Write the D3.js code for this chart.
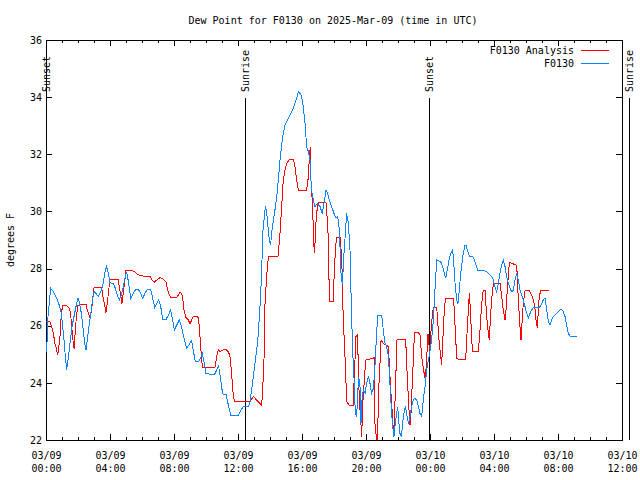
<!DOCTYPE html>
<html><head><meta charset="utf-8">
<script src="https://cdn.jsdelivr.net/npm/d3@7"></script>
<style>
html,body{margin:0;padding:0;background:#fff;}
svg text{font-family:"DejaVu Sans Mono",monospace;font-size:10px;fill:#000;}
</style></head>
<body>
<svg id="chart" width="640" height="480"></svg>
<script>
// ---- data ----
const titleText = "Dew Point for F0130 on 2025-Mar-09 (time in UTC)";
const yLabel = "degrees F";
const seriesNames = ["F0130 Analysis", "F0130"];
const seriesColors = ["#ff0000", "#0a84ff"];
const yTicks = [22, 24, 26, 28, 30, 32, 34, 36];
const startTime = "2025-03-09T00:00:00Z";
const spanHours = 36;

const eventNames = ["Sunset", "Sunrise", "Sunset", "Sunrise"];
const eventHours = [-0.02, 12.45, 23.95, 36.42];

// analysis (red): hours since start, dew point F
const analysisHours = [0.0,0.25,0.35,0.46,0.56,0.67,0.73,0.79,0.875,0.96,1.04,1.29,1.46,1.54,1.6,1.67,1.71,1.77,1.83,1.92,2.0,2.17,2.5,2.58,2.67,2.75,2.85,2.92,3.0,3.48,3.54,3.65,3.75,3.83,3.92,4.0,4.52,4.58,4.67,4.75,4.83,4.92,5.0,5.08,5.35,5.56,5.67,5.83,6.08,6.5,6.6,6.75,6.92,7.125,7.33,7.5,7.6,7.71,7.79,8.17,8.27,8.375,8.48,8.54,8.625,8.75,8.9,9.0,9.1,9.21,9.42,9.52,9.58,9.67,9.73,9.79,10.56,10.67,10.77,10.875,11.08,11.25,11.4,11.5,11.6,11.67,11.77,12.75,12.96,13.48,13.54,13.625,13.69,13.8,13.9,14.5,14.625,14.73,14.83,14.94,15.04,15.21,15.46,15.56,15.67,15.77,16.29,16.4,16.46,16.52,16.56,16.625,16.69,16.75,16.79,16.85,16.96,17.04,17.5,17.58,17.65,17.71,17.96,18.02,18.15,18.4,18.5,18.58,18.67,18.75,18.79,18.96,19.21,19.25,19.375,19.46,19.52,19.58,19.67,19.73,19.8,19.94,19.98,20.46,20.5,20.52,20.56,20.66,20.73,20.77,20.875,20.94,21.08,21.4,21.46,21.52,21.6,21.67,21.73,21.81,21.88,21.94,22.48,22.54,22.6,22.69,22.75,22.81,22.9,22.98,23.02,23.27,23.375,23.48,23.6,23.69,23.79,23.85,23.92,23.96,24.02,24.1,24.21,24.42,24.52,24.58,24.67,24.73,24.79,24.875,24.96,25.46,25.52,25.58,25.67,25.77,26.23,26.29,26.375,26.46,26.54,26.6,26.67,27.02,27.125,27.23,27.33,27.44,27.54,27.65,27.71,27.79,27.875,27.96,28.375,28.48,28.58,28.69,28.75,28.83,28.92,28.96,29.42,29.48,29.56,29.625,29.69,29.75,29.83,29.94,30.21,30.35,30.46,30.56,30.625,30.71,30.77,30.83,30.92,31.46];
const analysisDew = [26.14,26.14,25.97,25.73,25.38,25.15,24.97,25.21,25.62,26.43,26.7,26.7,26.61,26.43,25.97,25.62,25.32,25.17,25.85,26.43,26.71,26.75,26.75,26.55,26.43,26.26,26.55,26.96,27.33,27.33,27.07,26.78,26.46,26.78,27.25,27.62,27.62,27.37,27.07,26.78,27.13,27.54,27.93,27.95,27.93,27.89,27.81,27.77,27.74,27.74,27.62,27.52,27.6,27.68,27.63,27.54,27.25,27.07,26.99,26.99,27.07,27.19,27.13,26.99,26.55,26.29,26.2,26.06,26.2,26.32,26.32,26.29,25.97,25.27,24.8,24.54,24.54,24.92,25.15,25.09,25.15,25.17,25.09,24.92,24.33,23.75,23.36,23.36,23.52,23.22,23.75,24.8,26.78,27.8,28.42,28.42,29.23,30.17,31.1,31.45,31.68,31.82,31.82,31.57,31.1,30.75,30.75,31.22,31.92,32.27,31.1,30.52,29.7,28.77,28.53,29.47,30.17,30.31,30.31,29.7,29.0,26.84,26.84,28.0,29.1,29.1,28.0,26.2,25.15,24.0,23.34,23.22,23.22,23.98,25.62,25.67,24.68,23.4,22.7,22.12,23.3,24.45,24.8,24.86,24.9,23.52,22.58,22.0,22.0,23.52,24.68,25.5,25.38,25.27,24.68,23.98,23.28,22.7,22.12,23.3,24.5,25.53,25.53,24.68,23.98,23.05,22.52,22.9,24.1,25.03,25.76,25.76,25.67,24.92,24.45,24.15,24.7,25.7,25.7,24.9,25.5,26.1,26.64,26.64,25.85,25.38,24.92,24.62,25.38,26.32,26.96,26.96,26.55,25.85,24.86,24.82,24.82,25.5,26.32,27.13,26.43,25.5,25.09,25.09,25.85,26.78,27.25,27.25,26.32,25.73,25.5,26.43,27.02,27.48,27.48,27.02,26.55,26.2,26.55,27.25,27.95,28.21,28.12,27.37,26.55,25.97,25.5,26.08,26.78,27.23,27.23,27.07,26.9,26.61,26.2,25.91,26.55,27.02,27.23,27.23];

// observations (blue)
const obsHours = [0.04,0.125,0.29,0.46,0.67,0.83,0.96,1.04,1.125,1.21,1.29,1.375,1.5,1.625,1.75,1.875,2.0,2.08,2.21,2.33,2.42,2.5,2.58,2.71,2.83,2.92,3.0,3.125,3.27,3.42,3.54,3.69,3.79,3.9,4.0,4.21,4.33,4.46,4.58,4.71,4.83,4.96,5.04,5.17,5.29,5.46,5.6,5.77,5.92,6.04,6.21,6.33,6.54,6.67,6.79,6.92,7.04,7.17,7.29,7.5,7.65,7.79,7.92,8.02,8.17,8.33,8.48,8.625,8.79,8.96,9.1,9.23,9.33,9.54,9.67,9.77,9.9,10.0,10.25,10.54,10.67,10.79,10.92,11.04,11.25,11.375,11.54,12.04,12.19,12.33,12.65,12.75,12.85,12.96,13.06,13.17,13.27,13.375,13.44,13.5,13.54,13.625,13.71,13.79,13.875,13.96,14.04,14.1,14.21,14.31,14.42,14.52,14.625,14.73,14.83,14.94,15.04,15.15,15.25,15.35,15.46,15.56,15.67,15.77,15.875,15.98,16.08,16.19,16.29,16.4,16.5,16.56,16.625,16.71,16.81,16.96,17.125,17.27,17.375,17.5,17.6,17.71,17.85,18.0,18.125,18.23,18.31,18.375,18.44,18.52,18.625,18.71,18.79,18.9,19.0,19.04,19.1,19.15,19.21,19.27,19.33,19.42,19.48,19.54,19.625,19.69,19.75,19.83,19.94,20.04,20.15,20.25,20.35,20.46,20.56,20.67,20.75,20.98,21.08,21.19,21.29,21.4,21.46,21.54,21.6,21.67,21.75,21.83,21.92,21.98,22.04,22.125,22.21,22.29,22.375,22.46,22.54,22.65,22.75,22.85,22.96,23.06,23.17,23.27,23.375,23.48,23.58,23.69,23.79,23.9,24.0,24.1,24.21,24.31,24.42,24.52,24.67,24.79,24.9,24.98,25.08,25.19,25.29,25.42,25.5,25.58,25.67,25.75,25.83,25.92,26.0,26.08,26.19,26.25,26.33,26.46,26.67,26.77,26.875,26.98,27.33,27.54,27.75,27.85,27.96,28.06,28.17,28.27,28.375,28.48,28.58,28.69,28.79,28.9,29.0,29.1,29.21,29.31,29.42,29.52,29.625,29.73,29.83,29.94,30.04,30.15,30.25,30.35,30.46,30.77,30.875,30.98,31.08,31.19,31.29,31.4,31.5,31.6,31.71,31.92,32.125,32.23,32.33,32.44,32.54,32.65,32.75,33.17];
const obsDew = [25.09,26.32,27.31,27.19,26.96,26.72,26.43,25.97,25.5,24.92,24.45,24.8,25.38,25.97,26.32,26.67,26.96,26.84,26.43,25.85,25.38,25.15,25.5,26.08,26.55,26.96,27.19,27.13,27.02,27.19,27.37,27.89,28.07,27.83,27.5,27.48,27.31,27.07,26.9,27.07,27.37,27.72,27.89,27.48,26.96,27.13,27.27,27.27,27.13,26.96,27.16,27.27,27.27,26.96,26.64,26.78,26.92,26.67,26.22,26.22,26.37,26.55,26.2,25.85,26.02,26.2,25.94,25.56,25.21,25.35,25.48,25.06,24.74,24.74,24.89,25.03,24.68,24.33,24.3,24.3,24.45,24.59,24.1,23.61,23.6,23.28,22.87,22.87,23.05,23.17,23.17,23.34,23.75,24.22,24.68,25.15,25.73,26.67,27.42,28.3,29.23,29.7,30.17,29.99,29.47,29.0,28.82,29.23,29.7,30.05,30.52,31.1,31.8,32.33,32.73,33.02,33.14,33.26,33.37,33.49,33.61,33.78,33.96,34.19,34.13,34.02,33.67,33.08,32.27,32.09,31.8,31.1,30.63,30.4,30.17,30.28,30.17,29.93,30.28,30.75,30.63,30.4,30.17,29.93,29.76,29.82,29.47,28.77,27.83,27.42,28.53,29.23,29.93,29.58,28.65,27.6,26.43,25.38,24.57,23.98,22.93,22.82,23.63,24.22,23.87,22.58,23.4,23.75,23.63,23.98,24.22,23.98,23.63,23.8,24.57,25.85,26.37,26.37,25.85,25.38,25.27,24.92,24.33,23.52,22.93,22.47,22.12,22.6,22.93,23.17,22.7,22.23,22.12,22.6,22.93,23.17,22.93,22.58,22.82,23.17,23.4,23.46,23.4,23.17,22.93,22.82,23.4,23.87,24.45,24.8,25.1,25.5,26.2,27.25,28.3,28.28,28.24,28.07,27.83,27.66,27.95,28.3,28.53,28.65,28.07,27.37,26.9,26.78,27.25,27.83,28.18,28.53,28.82,28.82,28.65,28.44,28.44,28.3,28.12,27.95,27.95,27.89,27.77,27.72,27.6,27.37,27.19,27.48,27.83,28.12,28.3,28.07,27.72,27.48,27.31,27.19,27.25,27.6,27.83,27.6,27.25,27.07,26.9,26.67,26.43,26.29,26.43,26.55,26.63,26.63,26.67,26.78,26.9,26.96,26.55,26.14,26.02,26.2,26.32,26.43,26.55,26.57,26.49,26.32,26.02,25.73,25.64,25.64];

// ---- chart ----
const svg = d3.select("#chart");
const L = 46, R = 622, T = 40, B = 440;
const t0 = new Date(startTime);
const toDate = h => new Date(t0.getTime() + h * 3600e3);

const x = d3.scaleUtc().domain([t0, toDate(spanHours)]).range([L, R]);
const y = d3.scaleLinear().domain([22, 36]).range([B, T]);

// title
svg.append("text").attr("x", 333).attr("y", 24).attr("text-anchor", "middle").text(titleText);

// y label
svg.append("text").attr("transform", `translate(10,240) rotate(-90)`)
  .attr("text-anchor", "middle").attr("dy", "0.35em").text(yLabel);

// axes
const hourMinor = x.ticks(d3.utcHour.every(1));
const hourMajor = x.ticks(d3.utcHour.every(4));

function styleAxis(g){ g.select(".domain").remove(); g.selectAll("line").attr("stroke","#000").attr("shape-rendering","crispEdges"); }

svg.append("g").attr("transform", `translate(0,${B})`)
  .call(d3.axisBottom(x).tickValues(hourMinor).tickSize(-3).tickFormat(""))
  .call(styleAxis);
svg.append("g").attr("transform", `translate(0,${T})`)
  .call(d3.axisTop(x).tickValues(hourMinor).tickSize(-3).tickFormat(""))
  .call(styleAxis);
svg.append("g").attr("transform", `translate(0,${T})`)
  .call(d3.axisTop(x).tickValues(hourMajor).tickSize(-6).tickFormat(""))
  .call(styleAxis);

const fmtDay = d3.utcFormat("%m/%d"), fmtHour = d3.utcFormat("%H:%M");
const xb = svg.append("g").attr("transform", `translate(0,${B})`)
  .call(d3.axisBottom(x).tickValues(hourMajor).tickSize(-6).tickPadding(0).tickFormat(""))
  .call(styleAxis);
xb.selectAll(".tick").each(function(d){
  const t = d3.select(this).append("text").attr("text-anchor","middle").attr("fill","#000");
  t.append("tspan").attr("x",0).attr("y",18.5).text(fmtDay(d));
  t.append("tspan").attr("x",0).attr("y",31.5).text(fmtHour(d));
});

const yl = svg.append("g").attr("transform", `translate(${L},0)`)
  .call(d3.axisLeft(y).tickValues(yTicks).tickSize(-6).tickPadding(4).tickFormat(d3.format("d")))
  .call(styleAxis);
yl.selectAll("text").attr("font-family","DejaVu Sans Mono").attr("font-size",10).attr("fill","#000");
svg.append("g").attr("transform", `translate(${R},0)`)
  .call(d3.axisRight(y).tickValues(yTicks).tickSize(-6).tickFormat(""))
  .call(styleAxis);

svg.selectAll("g text").attr("font-family",null).attr("font-size",null);

// frame
svg.append("rect").attr("x", L + 0.5).attr("y", T + 0.5).attr("width", R - L).attr("height", B - T)
  .attr("fill","none").attr("stroke","#000").attr("shape-rendering","crispEdges");

// sunrise/sunset
const ev = svg.append("g");
eventHours.forEach((h, i) => {
  const xp = Math.round(x(toDate(h))) + 0.5;
  ev.append("line").attr("x1", xp).attr("x2", xp).attr("y1", 98).attr("y2", B)
    .attr("stroke","#000").attr("shape-rendering","crispEdges");
  ev.append("text").attr("transform", `translate(${xp},92) rotate(-90)`)
    .attr("dy","0.35em").attr("text-anchor","start").text(eventNames[i]);
});

// clip
svg.append("clipPath").attr("id","plotclip").append("rect")
  .attr("x", L).attr("y", T).attr("width", R - L).attr("height", B - T);

const line = d3.line().x(d => x(d[0])).y(d => y(d[1]));
const seriesData = [
  analysisHours.map((h, i) => [toDate(h), analysisDew[i]]),
  obsHours.map((h, i) => [toDate(h), obsDew[i]])
];
seriesData.forEach((s, i) => {
  svg.append("path").datum(s).attr("d", line).attr("fill","none")
    .attr("stroke", seriesColors[i]).attr("stroke-width", 1)
    .attr("clip-path","url(#plotclip)").attr("shape-rendering","crispEdges");
});

// legend
seriesNames.forEach((n, i) => {
  const yy = 50 + i * 13;
  svg.append("text").attr("x", 574).attr("y", yy).attr("dy","0.35em").attr("text-anchor","end").text(n);
  svg.append("line").attr("x1", 581).attr("x2", 609).attr("y1", yy + 0.5).attr("y2", yy + 0.5)
    .attr("stroke", seriesColors[i]).attr("shape-rendering","crispEdges");
});
</script>
</body></html>
